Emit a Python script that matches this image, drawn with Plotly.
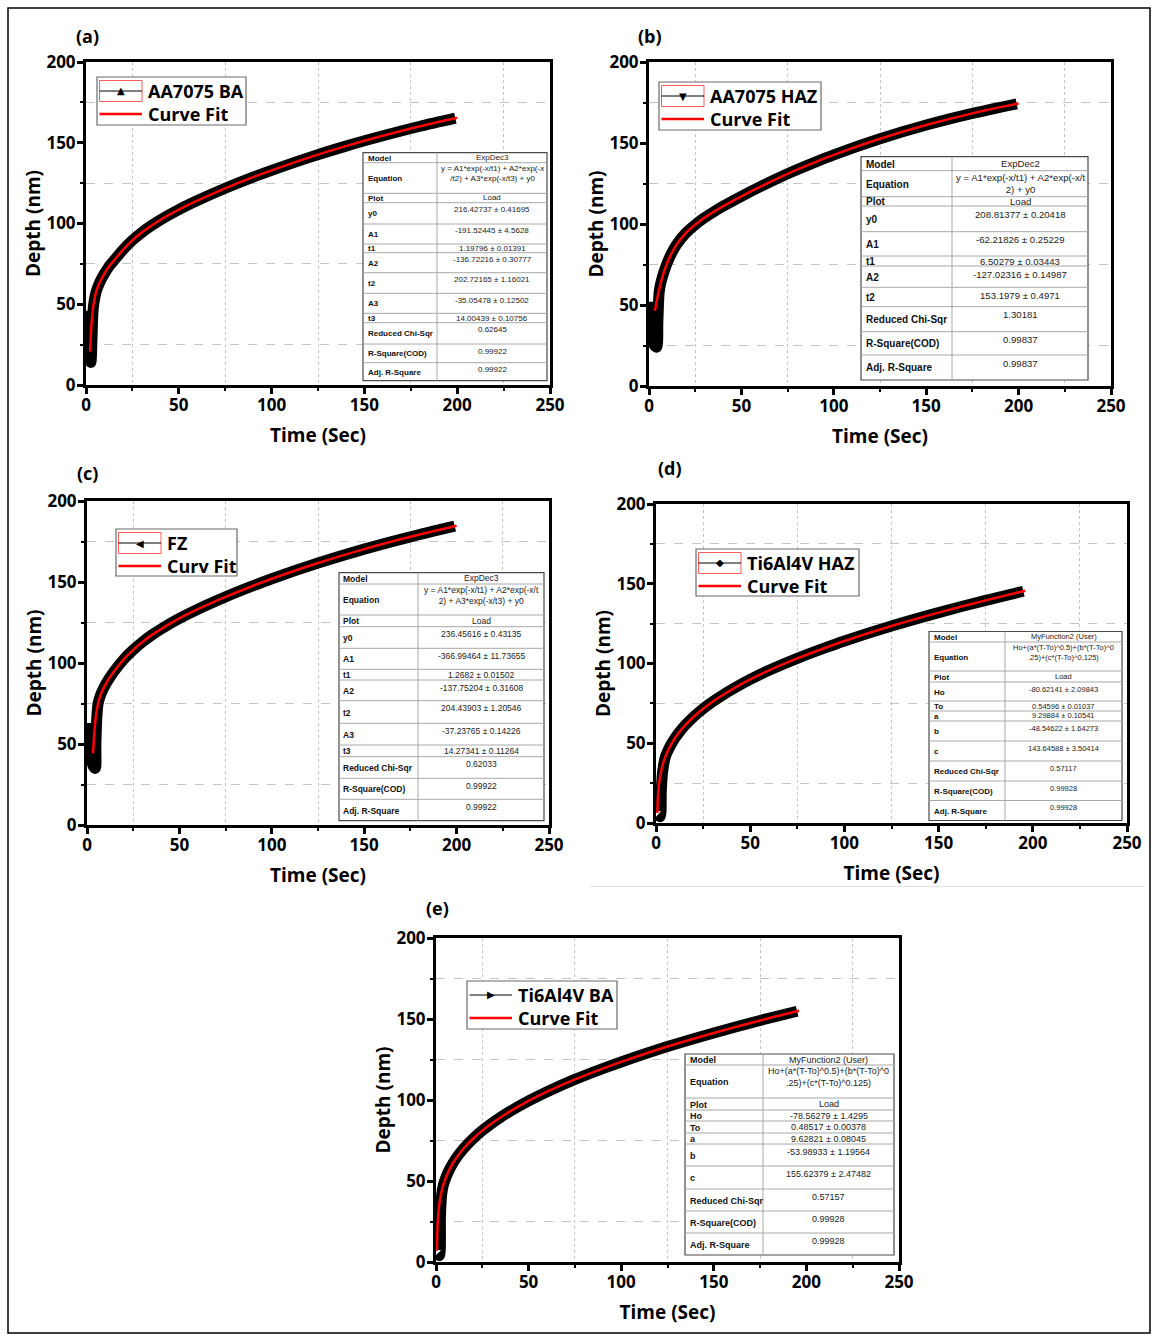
import plotly.graph_objects as go

W, H = 1158, 1336
FONT = "Open Sans"
TABLE_FONT = "Liberation Sans"
GLYPH_FONT = "DejaVu Sans"

# ---------------- creep curves: time (s) vs depth (nm) ----------------
# AA7075 base alloy
aa_ba_t = [1.8, 2.0, 2.6, 3.2, 3.6, 4, 5, 6, 7, 8, 10, 12, 15, 20, 25, 30, 35, 40, 50, 60, 75, 90, 100,
           120, 140, 160, 180, 199]
aa_ba_depth = [46, 16, 14, 28, 42, 48.5, 55.6, 59.6, 62.5, 65.0, 69.1, 72.7, 77.0, 83.8, 89.6, 94.4, 98.5,
               102.2, 108.6, 114.2, 121.8, 128.7, 132.9, 140.8, 147.9, 154.3, 160.2, 165.2]
aa_ba_fit_t = [2.2, 2.6, 3, 3.5, 4, 5, 6, 7, 8, 10, 12, 15, 20, 25, 30, 35, 40, 50, 60, 75, 90, 100,
               120, 140, 160, 180, 200]
aa_ba_fit_depth = [20.7, 30.5, 37.8, 44.4, 49.3, 55.6, 59.6, 62.5, 65.0, 69.1, 72.7, 77.0, 83.8, 89.6, 94.4,
                   98.5, 102.2, 108.6, 114.2, 121.8, 128.7, 132.9, 140.8, 147.9, 154.3, 160.2, 165.5]

# AA7075 heat affected zone
aa_haz_t = [2.0, 2.2, 3, 4.2, 4.8, 5.5, 6.5, 8, 10, 12, 15, 20, 25, 30, 35, 40, 50, 60, 75, 90, 100,
            125, 150, 175, 199]
aa_haz_depth = [52, 28, 25, 24, 40, 58, 64.2, 70.1, 76.4, 81.5, 87.4, 94.5, 99.6, 103.8, 107.5, 110.9,
                117.1, 122.9, 131.0, 138.2, 142.7, 152.6, 161.1, 168.3, 174.2]
aa_haz_fit_t = [3.2, 4, 5, 6, 7, 8, 10, 12, 15, 20, 25, 30, 35, 40, 50, 60, 75, 90, 100, 125, 150, 175, 200]
aa_haz_fit_depth = [46.4, 51.4, 57.0, 61.9, 66.3, 70.1, 76.4, 81.5, 87.4, 94.5, 99.6, 103.8, 107.5, 110.9,
                    117.1, 122.9, 131.0, 138.2, 142.7, 152.6, 161.1, 168.3, 174.4]

# fusion zone
fz_t = [2.3, 2.5, 3.5, 4.5, 4.8, 5.3, 6, 7, 8, 10, 12, 15, 20, 25, 30, 35, 40, 50, 60, 75, 90, 100,
        125, 150, 175, 199]
fz_depth = [63, 40, 36, 35, 50, 66, 75.0, 79.1, 82.1, 86.7, 90.5, 95.4, 102.4, 108.1, 113.0, 117.2, 120.9,
            127.5, 133.2, 140.8, 147.7, 152.0, 161.7, 170.3, 177.9, 184.5]
fz_fit_t = [3.3, 3.6, 4, 4.5, 5, 6, 7, 8, 10, 12, 15, 20, 25, 30, 35, 40, 50, 60, 75, 90, 100,
            125, 150, 175, 200]
fz_fit_depth = [44.2, 50.7, 57.6, 64.0, 68.7, 75.0, 79.1, 82.1, 86.7, 90.5, 95.4, 102.4, 108.1, 113.0, 117.2,
                120.9, 127.5, 133.2, 140.8, 147.7, 152.0, 161.7, 170.3, 177.9, 184.7]

# Ti6Al4V heat affected zone
ti_haz_t = [0.8, 2.2, 2.8, 3.5, 5, 6.5, 8, 10, 12, 15, 20, 25, 30, 35, 40, 50, 60, 75, 90, 100,
            125, 150, 175, 195]
ti_haz_depth = [5, 4, 20, 32, 41.6, 45.8, 49.2, 53.1, 56.4, 60.7, 66.6, 71.6, 76.0, 79.9, 83.5, 90.0, 95.7,
                103.2, 109.9, 114.1, 123.5, 131.9, 139.6, 145.3]
ti_haz_fit_t = [0.7, 1, 1.5, 2, 3, 4, 5, 6.5, 8, 10, 12, 15, 20, 25, 30, 35, 40, 50, 60, 75, 90, 100,
                125, 150, 175, 196]
ti_haz_fit_depth = [6.3, 16.0, 23.3, 27.8, 33.9, 38.2, 41.6, 45.8, 49.2, 53.1, 56.4, 60.7, 66.6, 71.6, 76.0,
                    79.9, 83.5, 90.0, 95.7, 103.2, 109.9, 114.1, 123.5, 131.9, 139.6, 145.6]

# Ti6Al4V base alloy
ti_ba_t = [0.6, 1.8, 2.4, 3, 4, 5, 6.5, 8, 10, 12, 15, 20, 25, 30, 35, 40, 50, 60, 75, 90, 100,
           125, 150, 175, 195]
ti_ba_depth = [5, 4, 28, 41, 47.7, 51.1, 55.3, 58.7, 62.6, 65.9, 70.2, 76.1, 81.1, 85.5, 89.4, 93.0, 99.4,
               105.1, 112.7, 119.4, 123.5, 133.0, 141.4, 149.1, 154.8]
ti_ba_fit_t = [0.55, 0.7, 1, 1.5, 2, 3, 4, 5, 6.5, 8, 10, 12, 15, 20, 25, 30, 35, 40, 50, 60, 75, 90, 100,
               125, 150, 175, 196]
ti_ba_fit_depth = [7.2, 17.6, 25.9, 32.9, 37.3, 43.4, 47.7, 51.1, 55.3, 58.7, 62.6, 65.9, 70.2, 76.1, 81.1,
                   85.5, 89.4, 93.0, 99.4, 105.1, 112.7, 119.4, 123.5, 133.0, 141.4, 149.1, 155.1]

x_ticks = [0, 50, 100, 150, 200, 250]
x_minor = [25, 75, 125, 175, 225]
y_ticks = [0, 50, 100, 150, 200]
y_minor = [25, 75, 125, 175]

# ---------------- fit reports ----------------
expdec3_rows = ["Model", "Equation", "Plot", "y0", "A1", "t1", "A2", "t2", "A3", "t3",
                "Reduced Chi-Sqr", "R-Square(COD)", "Adj. R-Square"]
expdec2_rows = ["Model", "Equation", "Plot", "y0", "A1", "t1", "A2", "t2",
                "Reduced Chi-Sqr", "R-Square(COD)", "Adj. R-Square"]
user_rows = ["Model", "Equation", "Plot", "Ho", "To", "a", "b", "c",
             "Reduced Chi-Sqr", "R-Square(COD)", "Adj. R-Square"]

aa_ba_report = ["ExpDec3", "y = A1*exp(-x/t1) + A2*exp(-x<br>/t2) + A3*exp(-x/t3) + y0", "Load",
                "216.42737 ± 0.41695", "-191.52445 ± 4.5628", "1.19796 ± 0.01391",
                "-136.72216 ± 0.30777", "202.72165 ± 1.16021", "-35.05478 ± 0.12502",
                "14.00439 ± 0.10756", "0.62645", "0.99922", "0.99922"]
aa_haz_report = ["ExpDec2", "y = A1*exp(-x/t1) + A2*exp(-x/t<br>2) + y0", "Load",
                 "208.81377 ± 0.20418", "-62.21826 ± 0.25229", "6.50279 ± 0.03443",
                 "-127.02316 ± 0.14987", "153.1979 ± 0.4971", "1.30181", "0.99837", "0.99837"]
fz_report = ["ExpDec3", "y = A1*exp(-x/t1) + A2*exp(-x/t<br>2) + A3*exp(-x/t3) + y0", "Load",
             "236.45616 ± 0.43135", "-366.99464 ± 11.73655", "1.2682 ± 0.01502",
             "-137.75204 ± 0.31608", "204.43903 ± 1.20546", "-37.23765 ± 0.14226",
             "14.27341 ± 0.11264", "0.62033", "0.99922", "0.99922"]
ti_haz_report = ["MyFunction2 (User)", "Ho+(a*(T-To)^0.5)+(b*(T-To)^0<br>.25)+(c*(T-To)^0.125)", "Load",
                 "-80.62141 ± 2.09843", "0.54596 ± 0.01037", "9.29884 ± 0.10541",
                 "-48.54622 ± 1.64273", "143.64588 ± 3.50414", "0.57117", "0.99928", "0.99928"]
ti_ba_report = ["MyFunction2 (User)", "Ho+(a*(T-To)^0.5)+(b*(T-To)^0<br>.25)+(c*(T-To)^0.125)", "Load",
                "-78.56279 ± 1.4295", "0.48517 ± 0.00378", "9.62821 ± 0.08045",
                "-53.98933 ± 1.19564", "155.62379 ± 2.47482", "0.57157", "0.99928", "0.99928"]

# ---------------- panel geometry (pixels) ----------------
panels = [
    dict(tag="(a)", tag_xy=(87, 36), name="AA7075 BA", fit_name="Curve Fit", glyph="▲", red_box=True,
         data=(aa_ba_t, aa_ba_depth), fit=(aa_ba_fit_t, aa_ba_fit_depth),
         plot=(86, 550, 62, 385), legend=(97, 77, 246, 125),
         table=dict(cols=(363, 437, 547),
                    edges=[152.7, 162.7, 193.3, 202.7, 224, 244, 252.7, 272.7, 293.3, 313.3, 322.7, 344, 362.7, 380.7],
                    rows=expdec3_rows, values=aa_ba_report, lsize=8, vsize=8)),
    dict(tag="(b)", tag_xy=(650, 36), name="AA7075 HAZ", fit_name="Curve Fit", glyph="▼", red_box=True,
         data=(aa_haz_t, aa_haz_depth), fit=(aa_haz_fit_t, aa_haz_fit_depth),
         plot=(649, 1111, 62, 386), legend=(659, 82, 821, 130),
         table=dict(cols=(861, 952, 1088),
                    edges=[156.7, 170.7, 196.7, 206, 231.7, 256, 266, 287.3, 306.7, 331.7, 355, 380],
                    rows=expdec2_rows, values=aa_haz_report, lsize=10, vsize=9.6)),
    dict(tag="(c)", tag_xy=(87, 473), name="FZ", fit_name="Curv Fit", glyph="◀", red_box=True,
         data=(fz_t, fz_depth), fit=(fz_fit_t, fz_fit_depth),
         plot=(87, 549, 501, 825), legend=(116, 529, 237, 576),
         table=dict(cols=(339, 418, 544),
                    edges=[572.7, 584, 615, 626.7, 648.3, 669.3, 680, 700.7, 723.3, 745, 756.7, 778.3, 799.3, 820.7],
                    rows=expdec3_rows, values=fz_report, lsize=8.5, vsize=8.5)),
    dict(tag="(d)", tag_xy=(670, 468), name="Ti6Al4V HAZ", fit_name="Curve Fit", glyph="◆", red_box=True,
         data=(ti_haz_t, ti_haz_depth), fit=(ti_haz_fit_t, ti_haz_fit_depth),
         plot=(656, 1127, 504, 823), legend=(696, 549, 859, 596),
         table=dict(cols=(929, 1005, 1122),
                    edges=[631.5, 642, 671, 682, 701, 711, 721, 741, 761, 781, 800.5, 820.5],
                    rows=user_rows, values=ti_haz_report, lsize=8, vsize=7.5)),
    dict(tag="(e)", tag_xy=(437, 908), name="Ti6Al4V BA", fit_name="Curve Fit", glyph="▶", red_box=False,
         data=(ti_ba_t, ti_ba_depth), fit=(ti_ba_fit_t, ti_ba_fit_depth),
         plot=(436, 899, 938, 1262), legend=(467, 981, 617, 1029),
         table=dict(cols=(685, 763, 894),
                    edges=[1054, 1065, 1098, 1110, 1121, 1133, 1144, 1166, 1189, 1211, 1233, 1255],
                    rows=user_rows, values=ti_ba_report, lsize=9, vsize=9)),
]


def X(v):
    return v / W


def Y(v):
    return 1 - v / H


shapes, annotations = [], []


def rect(x0, y0, x1, y1, color, width, fill="rgba(0,0,0,0)"):
    shapes.append(dict(type="rect", xref="paper", yref="paper", x0=X(x0), x1=X(x1), y0=Y(y1), y1=Y(y0),
                       line=dict(color=color, width=width), fillcolor=fill, layer="above"))


def seg(x0, y0, x1, y1, color, width):
    shapes.append(dict(type="line", xref="paper", yref="paper", x0=X(x0), x1=X(x1), y0=Y(y0), y1=Y(y1),
                       line=dict(color=color, width=width), layer="above"))


def label(x, y, s, size, family=FONT, bold=False, xanchor="left", yanchor="middle", color="black", angle=0):
    annotations.append(dict(xref="paper", yref="paper", x=X(x), y=Y(y), text=s, showarrow=False,
                            xanchor=xanchor, yanchor=yanchor, textangle=angle,
                            font=dict(family=family, size=size, color=color,
                                      weight="bold" if bold else "normal")))


def draw_table(spec):
    left, mid, right = spec["cols"]
    edges = spec["edges"]
    rect(left, edges[0], right, edges[-1], "#4a4a4a", 1.2, "white")
    for e in edges[1:-1]:
        seg(left, e, right, e, "#a8a8a8", 1)
    seg(mid, edges[0], mid, edges[-1], "#a8a8a8", 1)
    for i, (row, val) in enumerate(zip(spec["rows"], spec["values"])):
        top, bot = edges[i], edges[i + 1]
        c = (top + bot) / 2
        label(left + 2.5, c + 0.5, row, spec["lsize"], TABLE_FONT, bold=True, color="#111")
        if "<br>" in val:
            label((mid + right) / 2, top - 1, val, spec["vsize"], TABLE_FONT,
                  xanchor="center", yanchor="top", color="#222")
        elif bot - top > 14:
            label((mid + right) / 2, top + 0.5, val, spec["vsize"], TABLE_FONT,
                  xanchor="center", yanchor="top", color="#222")
        else:
            label((mid + right) / 2, c, val, spec["vsize"], TABLE_FONT, xanchor="center", color="#222")


def draw_legend(p):
    x0, y0, x1, y1 = p["legend"]
    rect(x0, y0, x1, y1, "#6a6a6a", 1.2, "white")
    r1, r2 = y0 + 14, y0 + 37
    sx0, sx1 = x0 + 2.5, x0 + 45
    if p["red_box"]:
        rect(sx0, r1 - 10.5, sx1, r1 + 10.5, "#ff5a5a", 1)
    seg(sx0, r1, sx1, r1, "black", 1.2)
    label(x0 + 23.5, r1, p["glyph"], 10, GLYPH_FONT, xanchor="center")
    label(x0 + 49, r1, p["name"], 18, FONT, bold=True)
    seg(sx0, r2, sx1, r2, "#ff0000", 2.5)
    label(x0 + 49, r2, p["fit_name"], 18, FONT, bold=True)


fig = go.Figure()
layout = {}
for i, p in enumerate(panels):
    n = i + 1
    suffix = "" if n == 1 else str(n)
    xa, ya = "x" + suffix, "y" + suffix
    fig.add_trace(go.Scatter(x=p["data"][0], y=p["data"][1], mode="lines", name=p["name"],
                             line=dict(color="black", width=11, shape="spline", smoothing=0.8),
                             xaxis=xa, yaxis=ya, showlegend=False, hoverinfo="skip"))
    fig.add_trace(go.Scatter(x=p["fit"][0], y=p["fit"][1], mode="lines", name=p["fit_name"],
                             line=dict(color="#ff0000", width=2.5, shape="spline", smoothing=0.8),
                             xaxis=xa, yaxis=ya, showlegend=False, hoverinfo="skip"))
    px0, px1, py0, py1 = p["plot"]
    common = dict(showline=True, linewidth=3, linecolor="black", mirror=True, automargin=False,
                  ticks="outside", ticklen=6, tickwidth=2.5, tickcolor="black",
                  showgrid=False, zeroline=False, tickmode="array",
                  tickfont=dict(family=FONT, size=17, color="black", weight="bold"))
    layout["xaxis" + suffix] = dict(
        common, domain=[X(px0), X(px1)], range=[0, 250], tickvals=x_ticks, anchor=ya,
        ticklabelstandoff=-3,
        title=dict(text="Time (Sec)", standoff=14, font=dict(family=FONT, size=19, color="black", weight="bold")),
        minor=dict(tickmode="array", tickvals=x_minor, ticks="outside", ticklen=3, tickwidth=2,
                   tickcolor="black", showgrid=True, gridcolor="#c4c4c4", gridwidth=1, griddash="dot"))
    layout["yaxis" + suffix] = dict(
        common, domain=[Y(py1), Y(py0)], range=[0, 200], tickvals=y_ticks, anchor=xa,
        ticklabelstandoff=-2,
        title=dict(text="Depth (nm)", standoff=0, font=dict(family=FONT, size=19, color="black", weight="bold")),
        minor=dict(tickmode="array", tickvals=y_minor, ticks="outside", ticklen=3, tickwidth=2,
                   tickcolor="black", showgrid=True, gridcolor="#c4c4c4", gridwidth=1, griddash="dash"))
    draw_table(p["table"])
    draw_legend(p)
    label(p["tag_xy"][0], p["tag_xy"][1], p["tag"], 18, FONT, bold=True, xanchor="center")

# outer frame and the faint divider under the right-hand middle panel
rect(8, 8, 1150, 1333, "black", 1.5)
seg(590, 886.5, 1145, 886.5, "#e4e4e4", 1)

fig.update_layout(template="none", width=W, height=H, margin=dict(l=0, r=0, t=0, b=0, autoexpand=False),
                  paper_bgcolor="white", plot_bgcolor="white",
                  font=dict(family=FONT, color="black"),
                  shapes=shapes, annotations=annotations, **layout)

fig.write_html("out.html")
